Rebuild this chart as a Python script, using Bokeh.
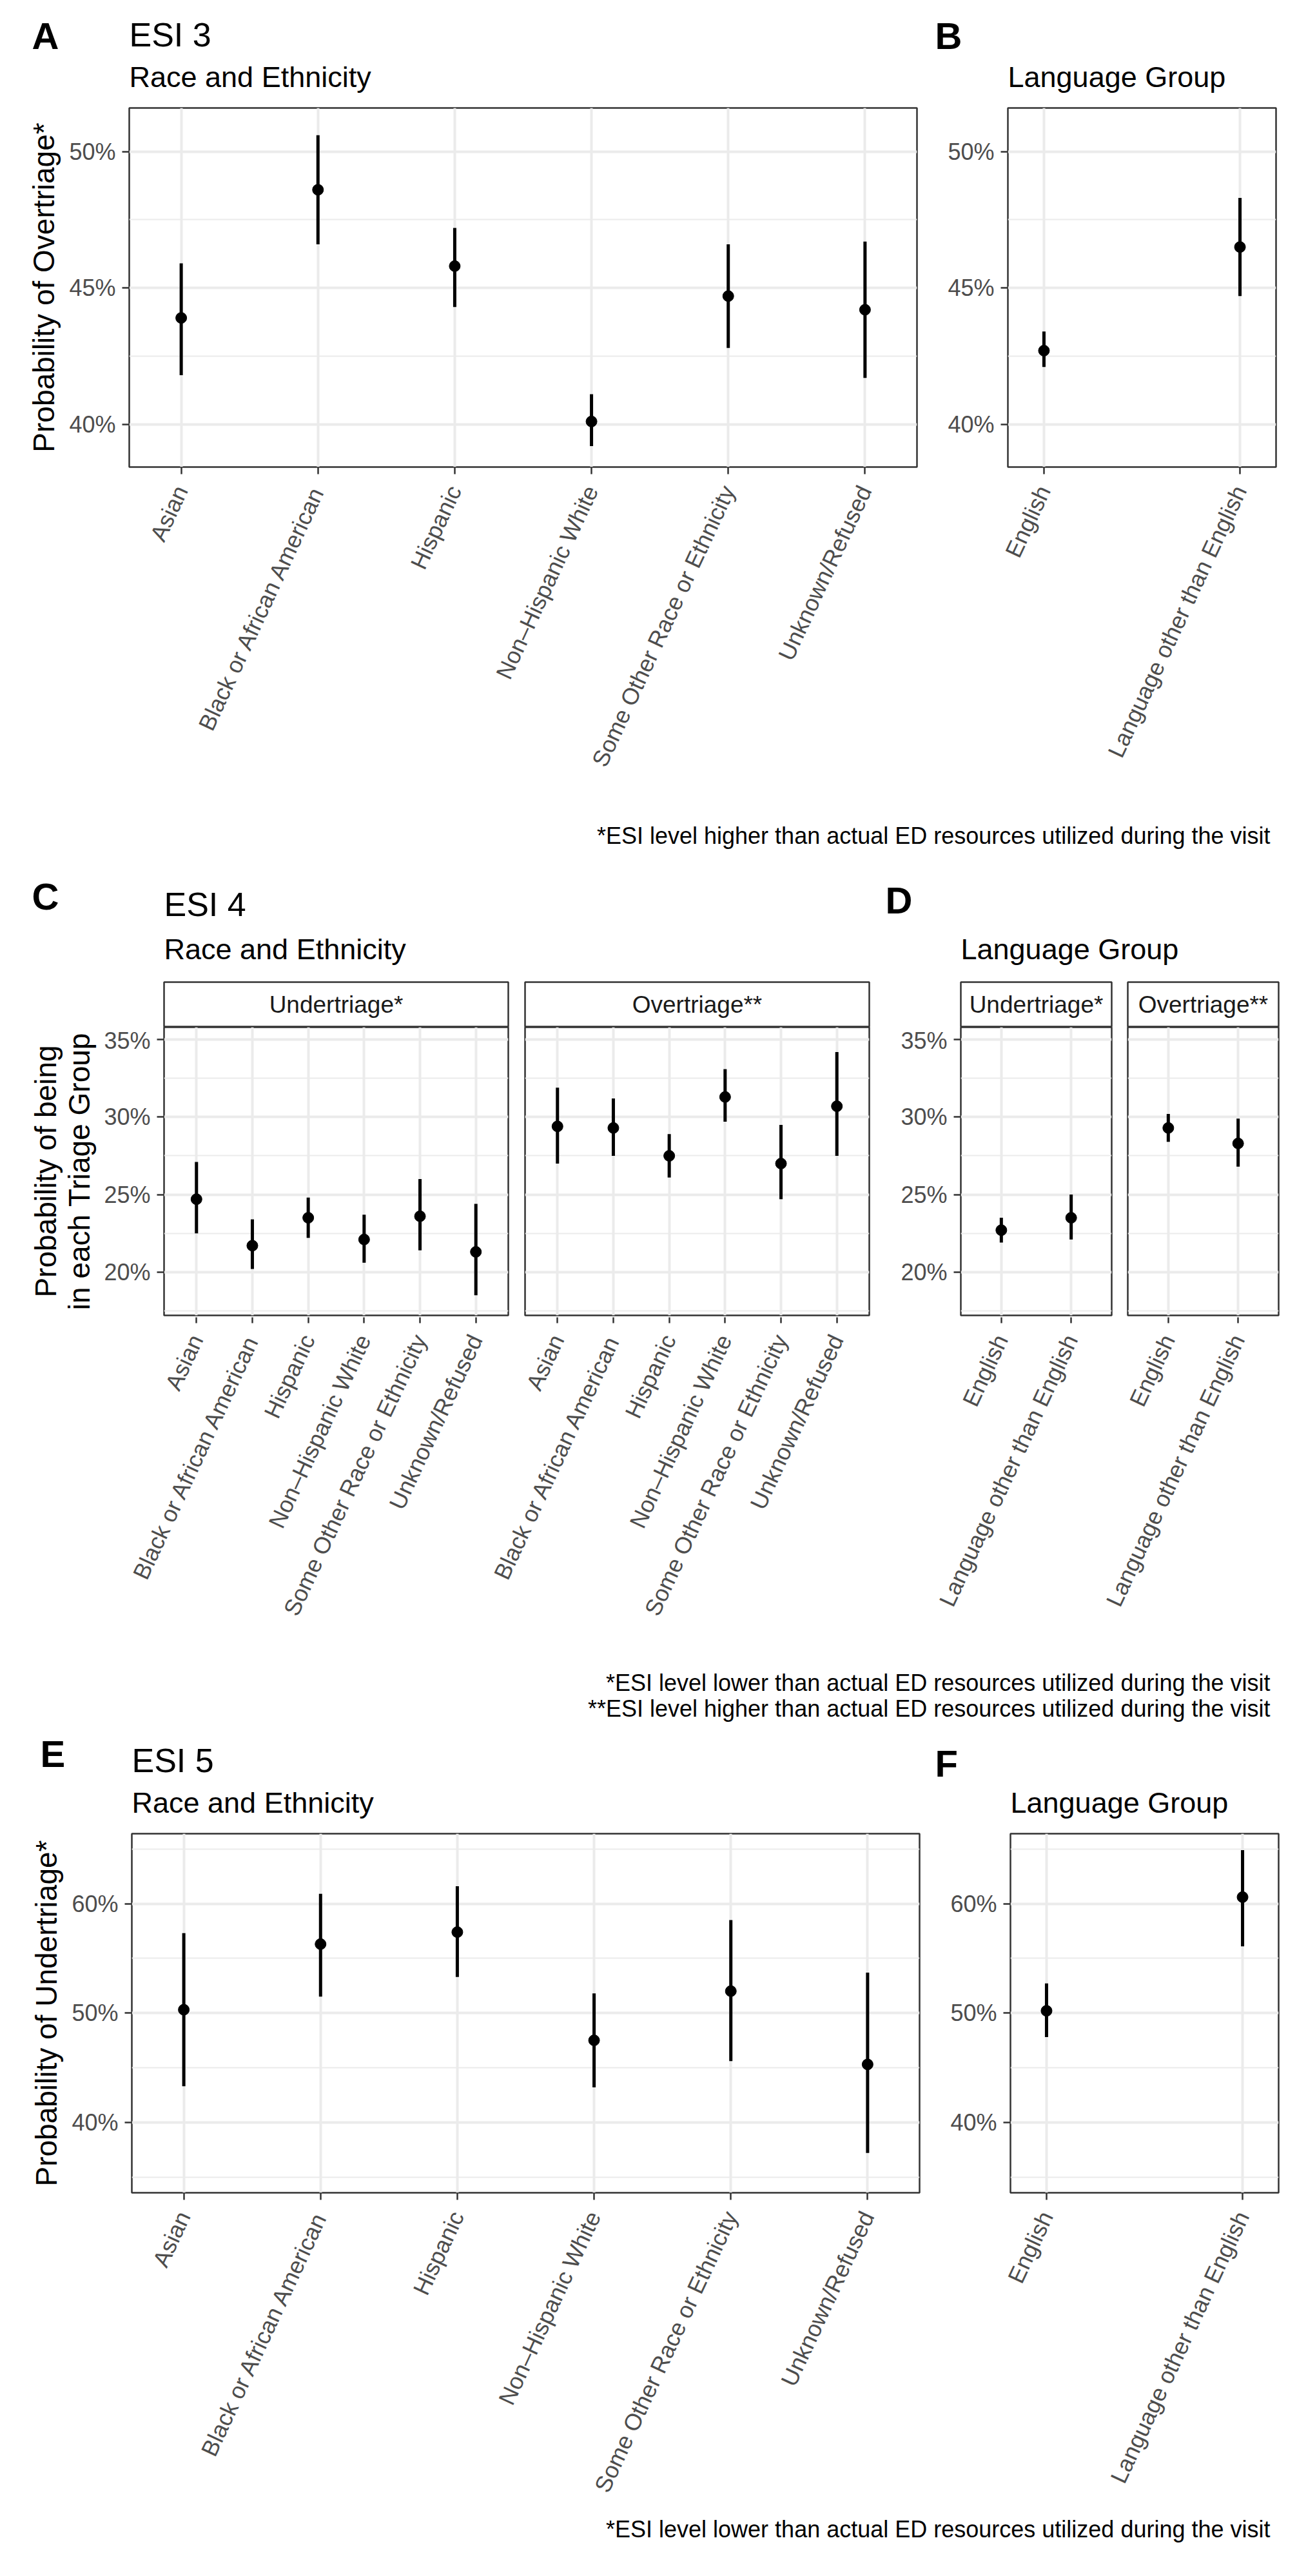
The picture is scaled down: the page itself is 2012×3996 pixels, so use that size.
import math
from bokeh.plotting import figure
from bokeh.models import Range1d, FixedTicker, PrintfTickFormatter, ColumnDataSource, CustomJSTickFormatter
from bokeh.layouts import column, row
from bokeh.embed import file_html
from bokeh.resources import INLINE
from bokeh.core.properties import value

FONT = "Liberation Sans"
GRID = "#EBEBEB"
BORDER = "#333333"
TICKLAB = "#4D4D4D"

# ---------------- data (percent) ----------------
race_groups = ["Asian", "Black or African American", "Hispanic", "Non\u2013Hispanic White",
               "Some Other Race or Ethnicity", "Unknown/Refused"]
language_groups = ["English", "Language other than English"]

esi3_race_est = [43.9, 48.6, 45.8, 40.1, 44.7, 44.2]
esi3_race_lo = [41.8, 46.6, 44.3, 39.2, 42.8, 41.7]
esi3_race_hi = [45.9, 50.6, 47.2, 41.1, 46.6, 46.7]
esi3_lang_est = [42.7, 46.5]
esi3_lang_lo = [42.1, 44.7]
esi3_lang_hi = [43.4, 48.3]

esi4_under_race_est = [24.7, 21.7, 23.5, 22.1, 23.6, 21.3]
esi4_under_race_lo = [22.5, 20.2, 22.2, 20.6, 21.4, 18.5]
esi4_under_race_hi = [27.1, 23.4, 24.8, 23.7, 26.0, 24.4]
esi4_over_race_est = [29.4, 29.3, 27.5, 31.3, 27.0, 30.7]
esi4_over_race_lo = [27.0, 27.5, 26.1, 29.7, 24.7, 27.5]
esi4_over_race_hi = [31.9, 31.2, 28.9, 33.1, 29.5, 34.2]
esi4_under_lang_est = [22.7, 23.5]
esi4_under_lang_lo = [21.9, 22.1]
esi4_under_lang_hi = [23.5, 25.0]
esi4_over_lang_est = [29.3, 28.3]
esi4_over_lang_lo = [28.4, 26.8]
esi4_over_lang_hi = [30.2, 29.9]

esi5_race_est = [50.3, 56.3, 57.4, 47.5, 52.0, 45.3]
esi5_race_lo = [43.3, 51.5, 53.3, 43.2, 45.6, 37.2]
esi5_race_hi = [57.3, 60.9, 61.6, 51.8, 58.5, 53.7]
esi5_lang_est = [50.2, 60.6]
esi5_lang_lo = [47.8, 56.1]
esi5_lang_hi = [52.7, 64.9]

esi3_ticks = [40, 45, 50]
esi3_minor = [37.5, 42.5, 47.5, 52.5]
esi4_ticks = [20, 25, 30, 35]
esi4_minor = [17.5, 22.5, 27.5, 32.5]
esi5_ticks = [40, 50, 60]
esi5_minor = [35, 45, 55, 65]

foot_over = "*ESI level higher than actual ED resources utilized during the visit"
foot_under = "*ESI level lower than actual ED resources utilized during the visit"
foot_over2 = "**ESI level higher than actual ED resources utilized during the visit"

TOTAL_W = 2004
LABEL_ANGLE = math.radians(65)


def new_fig(fw, fh, mbl, mbr, mbt, mbb, xr, yr, xaxis=True, yaxis=True):
    p = figure(frame_width=fw, frame_height=fh, x_range=xr, y_range=yr,
               min_border_left=mbl, min_border_right=mbr, min_border_top=mbt, min_border_bottom=mbb,
               x_axis_location="below" if xaxis else None,
               y_axis_location="left" if yaxis else None,
               output_backend="svg", toolbar_location=None, tools="")
    p.background_fill_color = "white"
    p.border_fill_color = "white"
    return p


def style_xaxis(ax, labels, ticks, tick_out=11):
    ax.ticker = FixedTicker(ticks=ticks, minor_ticks=[])
    ax.formatter = CustomJSTickFormatter(args=dict(labels=labels), code="return labels[index];")
    ax.major_label_orientation = LABEL_ANGLE
    ax.axis_line_color = None
    ax.major_tick_line_color = BORDER
    ax.major_tick_line_width = 2.5
    ax.major_tick_out = tick_out
    ax.major_tick_in = 0
    ax.minor_tick_out = 0
    ax.minor_tick_in = 0
    ax.major_label_standoff = 20
    ax.major_label_text_font = FONT
    ax.major_label_text_font_size = "36px"
    ax.major_label_text_color = TICKLAB
    ax.major_label_text_font_style = "normal"


def style_yaxis(ax, ticks, minor, title=None, standoff=10):
    ax.ticker = FixedTicker(ticks=ticks, minor_ticks=minor)
    ax.formatter = PrintfTickFormatter(format="%d%%")
    ax.axis_line_color = None
    ax.major_tick_line_color = BORDER
    ax.major_tick_line_width = 2.5
    ax.major_tick_out = 11
    ax.major_tick_in = 0
    ax.minor_tick_out = 0
    ax.minor_tick_in = 0
    ax.major_label_standoff = 10
    ax.major_label_text_font = FONT
    ax.major_label_text_font_size = "36px"
    ax.major_label_text_color = TICKLAB
    if title:
        ax.axis_label = title
        ax.axis_label_text_font = FONT
        ax.axis_label_text_font_size = "46px"
        ax.axis_label_text_font_style = "normal"
        ax.axis_label_text_color = "black"
        ax.axis_label_standoff = standoff
        ax.axis_label_text_line_height = 1.0


def panel(cats, est, lo, hi, fw, fh, mbl, mbr, mbt, mbb, expand, yr, ticks, minor,
          xaxis=True, yaxis=True, ytitle=None, ystandoff=10):
    n = len(cats)
    xs = list(range(n))
    p = new_fig(fw, fh, mbl, mbr, mbt, mbb, Range1d(-expand, n - 1 + expand), Range1d(*yr),
                xaxis=xaxis, yaxis=yaxis)
    p.outline_line_color = BORDER
    p.outline_line_width = 2.5
    p.xgrid.ticker = FixedTicker(ticks=xs, minor_ticks=[])
    p.xgrid.grid_line_color = GRID
    p.xgrid.grid_line_width = 4
    p.xgrid.minor_grid_line_color = None
    p.ygrid.ticker = FixedTicker(ticks=ticks, minor_ticks=minor)
    p.ygrid.grid_line_color = GRID
    p.ygrid.grid_line_width = 4
    p.ygrid.minor_grid_line_color = GRID
    p.ygrid.minor_grid_line_width = 2
    src = ColumnDataSource(dict(x=xs, est=est, lo=lo, hi=hi))
    p.segment(x0="x", y0="lo", x1="x", y1="hi", source=src, line_color="black", line_width=5)
    p.scatter(x="x", y="est", source=src, size=17, color="black")
    if xaxis:
        style_xaxis(p.xaxis[0], cats, xs)
    if yaxis:
        style_yaxis(p.yaxis[0], ticks, minor, ytitle, ystandoff)
    return p


def text_fig(h, items):
    p = new_fig(TOTAL_W, h, 0, 0, 0, 0, Range1d(0, TOTAL_W), Range1d(h, 0), xaxis=False, yaxis=False)
    p.outline_line_color = None
    p.grid.visible = False
    for (x, y, txt, size, style, align) in items:
        p.text(x=[x], y=[y], text=[txt], text_font=value(FONT), text_font_size=f"{size}px",
               text_font_style=style, text_align=align, text_baseline="alphabetic", text_color="black")
    return p


def strip_fig(label, fw, mbl, mbr):
    p = new_fig(fw, 70, mbl, mbr, 2, 0, Range1d(0, 1), Range1d(0, 1), xaxis=False, yaxis=False)
    p.outline_line_color = BORDER
    p.outline_line_width = 2.5
    p.grid.visible = False
    p.text(x=[0.5], y=[0.5], text=[label], text_font=value(FONT), text_font_size="37px",
           text_align="center", text_baseline="middle", text_color="#1A1A1A")
    return p


def label_fig(labels, ticks, fw, mbl, mbr, mbb, xr):
    p = new_fig(fw, 1, mbl, mbr, 0, mbb, xr, Range1d(0, 1), xaxis=True, yaxis=False)
    p.outline_line_color = None
    p.grid.visible = False
    style_xaxis(p.xaxis[0], labels, ticks, tick_out=9)
    return p


# ---------------- Section 1: ESI 3 ----------------
header1 = text_fig(158, [
    (49, 55, "A", 58, "bold", "left"),
    (200, 53, "ESI 3", 52, "normal", "left"),
    (200, 119, "Race and Ethnicity", 45, "normal", "left"),
    (1450, 55, "B", 58, "bold", "left"),
    (1563, 119, "Language Group", 45, "normal", "left"),
])
yr3 = (38.43, 51.6)
figA = panel(race_groups, esi3_race_est, esi3_race_lo, esi3_race_hi, 1222, 557, 200, 18, 9, 516,
             0.38, yr3, esi3_ticks, esi3_minor, ytitle="Probability of Overtriage*", ystandoff=10)
figB = panel(language_groups, esi3_lang_est, esi3_lang_lo, esi3_lang_hi, 416, 557, 123, 25, 9, 516,
             0.184, yr3, esi3_ticks, esi3_minor)
foot1 = text_fig(80, [(1970, 56, foot_over, 36, "normal", "right")])
sec1 = column(header1, row(figA, figB), foot1)

# ---------------- Section 2: ESI 4 ----------------
header2 = text_fig(201, [
    (49, 70, "C", 58, "bold", "left"),
    (254, 82, "ESI 4", 52, "normal", "left"),
    (254, 152, "Race and Ethnicity", 45, "normal", "left"),
    (1373, 76, "D", 58, "bold", "left"),
    (1490, 152, "Language Group", 45, "normal", "left"),
])
E2 = 0.58
yr4 = (17.2, 35.8)
W_R, GAP_R = 534, 26
W_L, GAP_L = 234, 25

stripU = strip_fig("Undertriage*", W_R, 254, 12)
stripO = strip_fig("Overtriage**", W_R, 14, 20)
stripLU = strip_fig("Undertriage*", W_L, 122, 12)
stripLO = strip_fig("Overtriage**", W_L, 13, 21)

pU = panel(race_groups, esi4_under_race_est, esi4_under_race_lo, esi4_under_race_hi, W_R, 447, 254, 12, 0, 2,
           E2, yr4, esi4_ticks, esi4_minor, xaxis=False,
           ytitle="Probability of being\nin each Triage Group", ystandoff=9)
pO = panel(race_groups, esi4_over_race_est, esi4_over_race_lo, esi4_over_race_hi, W_R, 447, 14, 20, 0, 2,
           E2, yr4, esi4_ticks, esi4_minor, xaxis=False, yaxis=False)
pLU = panel(language_groups, esi4_under_lang_est, esi4_under_lang_lo, esi4_under_lang_hi, W_L, 447, 122, 12, 0, 2,
            E2, yr4, esi4_ticks, esi4_minor, xaxis=False)
pLO = panel(language_groups, esi4_over_lang_est, esi4_over_lang_lo, esi4_over_lang_hi, W_L, 447, 13, 21, 0, 2,
            E2, yr4, esi4_ticks, esi4_minor, xaxis=False, yaxis=False)

# shared tick-label strips spanning both facets (labels overflow into the neighbouring facet)
s_r = W_R / (len(race_groups) - 1 + 2 * E2)
off_r = (W_R + GAP_R) / s_r
race_ticks = [i for i in range(len(race_groups))] + [i + off_r for i in range(len(race_groups))]
labR = label_fig(race_groups + race_groups, race_ticks, 2 * W_R + GAP_R, 254, 20, 485,
                 Range1d(-E2, -E2 + (2 * W_R + GAP_R) / s_r))
s_l = W_L / (len(language_groups) - 1 + 2 * E2)
off_l = (W_L + GAP_L) / s_l
lang_ticks = [i for i in range(len(language_groups))] + [i + off_l for i in range(len(language_groups))]
labL = label_fig(language_groups + language_groups, lang_ticks, 2 * W_L + GAP_L, 122, 21, 485,
                 Range1d(-E2, -E2 + (2 * W_L + GAP_L) / s_l))

foot2 = text_fig(150, [(1970, 82, foot_under, 36, "normal", "right"),
                       (1970, 122, foot_over2, 36, "normal", "right")])
sec2 = column(header2, row(stripU, stripO, stripLU, stripLO), row(pU, pO, pLU, pLO), row(labR, labL), foot2)

# ---------------- Section 3: ESI 5 ----------------
header3 = text_fig(163, [
    (62, 42, "E", 58, "bold", "left"),
    (204, 52, "ESI 5", 52, "normal", "left"),
    (204, 118, "Race and Ethnicity", 45, "normal", "left"),
    (1450, 57, "F", 58, "bold", "left"),
    (1567, 118, "Language Group", 45, "normal", "left"),
])
yr5 = (33.56, 66.4)
figE = panel(race_groups, esi5_race_est, esi5_race_lo, esi5_race_hi, 1222, 557, 204, 14, 3, 480,
             0.38, yr5, esi5_ticks, esi5_minor, ytitle="Probability of Undertriage*", ystandoff=10)
figF = panel(language_groups, esi5_lang_est, esi5_lang_lo, esi5_lang_hi, 416, 557, 127, 21, 3, 480,
             0.184, yr5, esi5_ticks, esi5_minor)
foot3 = text_fig(110, [(1970, 39, foot_under, 36, "normal", "right")])
sec3 = column(header3, row(figE, figF), foot3)

layout = column(sec1, sec2, sec3)
open("out.html", "w").write(file_html(layout, INLINE))
